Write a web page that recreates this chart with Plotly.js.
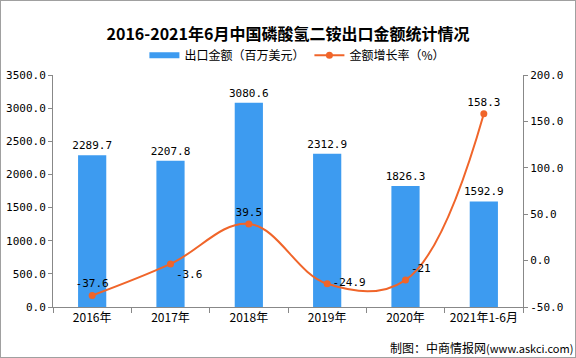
<!DOCTYPE html>
<html><head><meta charset="utf-8">
<script src="https://cdn.plot.ly/plotly-3.0.1.min.js"></script>
<style>html,body{margin:0;padding:0;background:#fff}#c{width:576px;height:358px;box-sizing:border-box;border:1px solid #a0a0a0}</style>
</head><body><div id="c"></div>
<script>
const categories = ['2016年','2017年','2018年','2019年','2020年','2021年1-6月'];
const exportValue = [2289.7, 2207.8, 3080.6, 2312.9, 1826.3, 1592.9];
const growthRate = [-37.6, -3.6, 39.5, -24.9, -21, 158.3];
const growthLabels = ['-37.6','-3.6','39.5','-24.9','-21','158.3'];
const yLeftTicks = [0,500,1000,1500,2000,2500,3000,3500];
const yRightTicks = [-50,0,50,100,150,200];

const mono = 'DejaVu Sans Mono, Liberation Mono, monospace';
const cjk = 'Noto Sans CJK SC, sans-serif';
const barColor = '#3D9BF0';
const lineColor = '#F0652A';

const data = [
  {type:'bar', x:categories, y:exportValue, name:'出口金额（百万美元）', showlegend:false,
   marker:{color:barColor}, text:exportValue.map(v=>v.toFixed(1)), textposition:'outside', constraintext:'none',
   textfont:{family:mono, size:11, color:'#000'}, cliponaxis:false, hoverinfo:'skip'},
  {type:'scatter', mode:'lines', x:[null], y:[null], name:'出口金额（百万美元）',
   line:{color:barColor, width:6}, showlegend:true, hoverinfo:'skip'},
  {type:'scatter', mode:'lines+markers+text', x:categories, y:growthRate, yaxis:'y2',
   name:'金额增长率（%）', line:{color:lineColor, width:2, shape:'spline', smoothing:1.1},
   marker:{color:lineColor, size:7}, text:growthLabels,
   textposition:['top center','bottom right','top center','middle right','top right','top center'],
   textfont:{family:mono, size:11, color:'#000'}, cliponaxis:false}
];

const layout = {
  width:574, height:356, margin:{l:52, r:52, t:74, b:50},
  paper_bgcolor:'#fff', plot_bgcolor:'#fff', showlegend:true,
  title:{text:'<b>2016-2021年6月中国磷酸氢二铵出口金额统计情况</b>', x:0.5, xanchor:'center', y:0.905, yanchor:'middle',
    font:{family:cjk, size:16, color:'#000'}},
  legend:{orientation:'h', x:0.52, xanchor:'center', y:1.085, yanchor:'middle',
    font:{family:cjk, size:12, color:'#000'}, itemwidth:30, traceorder:'normal', bgcolor:'rgba(0,0,0,0)'},
  bargap:0.64,
  xaxis:{type:'category', tickson:'boundaries', ticks:'outside', ticklen:5, tickcolor:'#888',
    showline:true, linecolor:'#888', linewidth:1, showgrid:false,
    tickfont:{family:cjk, size:12, color:'#000'}},
  yaxis:{range:[0,3500], tickvals:yLeftTicks, ticktext:yLeftTicks.map(v=>v.toFixed(1)),
    ticks:'outside', ticklen:4, tickcolor:'#888', showline:true, linecolor:'#888',
    showgrid:false, zeroline:false, tickfont:{family:mono, size:11, color:'#000'}},
  yaxis2:{range:[-50,200], overlaying:'y', side:'right', tickvals:yRightTicks, ticktext:yRightTicks.map(v=>v.toFixed(1)),
    ticks:'outside', ticklen:4, tickcolor:'#888', showline:true, linecolor:'#888',
    showgrid:false, zeroline:false, tickfont:{family:mono, size:11, color:'#000'}},
  annotations:[{text:'制图：中商情报网<span style="font-size:11px">(www.askci.com)</span>', xref:'paper', yref:'paper',
    x:1.11, xanchor:'right', y:-0.13, yanchor:'top', showarrow:false,
    font:{family:cjk, size:12, color:'#000'}}]
};
Plotly.newPlot('c', data, layout, {displayModeBar:false, staticPlot:true});
</script></body></html>
